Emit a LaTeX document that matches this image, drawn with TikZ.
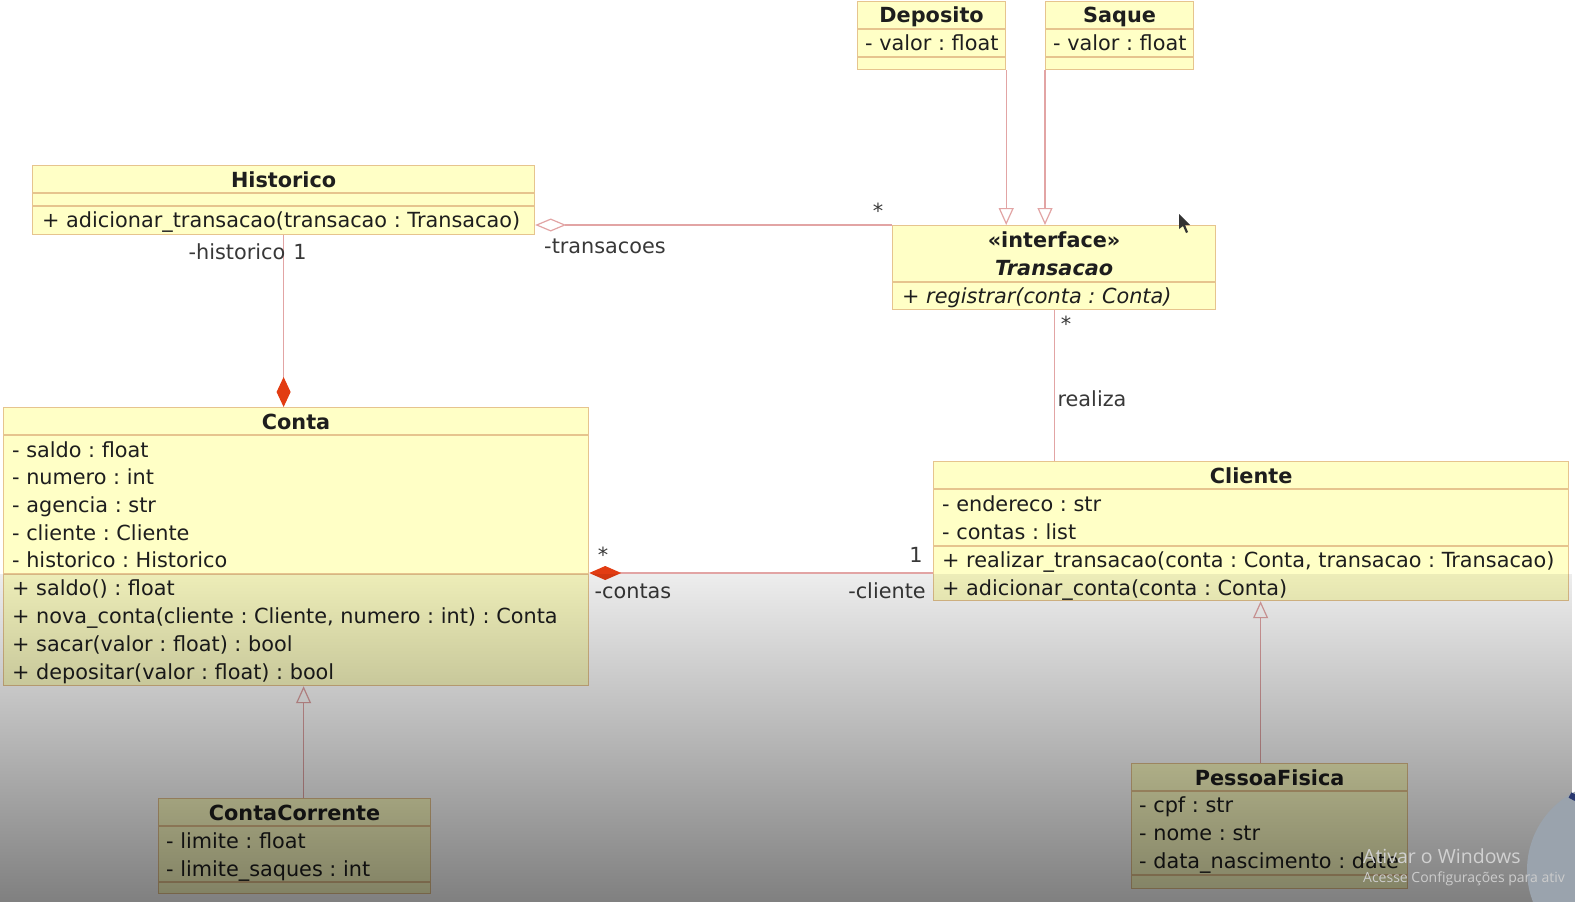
\documentclass[tikz,border=0pt]{standalone}
\usepackage{fontspec}
\setmainfont{DejaVu Sans}
\newfontfamily\winfont{Open Sans}
\usetikzlibrary{positioning,arrows.meta,fadings,calc}
\frenchspacing

\definecolor{classfill}{HTML}{FFFFC6}
\definecolor{classline}{HTML}{E6C48E}
\definecolor{wireline}{HTML}{E2A4A4}
\definecolor{diamondred}{HTML}{E23C12}
\definecolor{inktext}{HTML}{1E1E1E}
\definecolor{camgrey}{HTML}{9AA3AD}
\definecolor{camblue}{HTML}{2A3870}

\newcommand\umlsize{\fontsize{20.8}{25}\selectfont}

\tikzfading[name=screen shade,
  top color=transparent!93,
  bottom color=transparent!50]

\tikzset{
  class box/.style={
    draw=classline,
    fill=classfill,
    line width=1.2pt,
    anchor=north west,
    inner sep=0pt,
  },
  class rule/.style={
    draw=classline,
    line width=1.2pt,
  },
  class title/.style={
    font=\umlsize\bfseries,
    text=inktext,
    inner sep=0pt,
    text height=18pt,
    text depth=3.5pt,
  },
  member/.style={
    font=\umlsize,
    text=inktext,
    anchor=west,
    inner sep=0pt,
    text height=18pt,
    text depth=3.5pt,
  },
  role/.style={
    font=\umlsize,
    text=black!78,
    inner sep=0pt,
    text height=18pt,
    text depth=3.5pt,
  },
  wire/.style={
    draw=wireline,
    line width=1.2pt,
  },
  inherits/.style={
    -{Triangle[open, length=17pt, width=15pt]},
  },
  composed/.style={
    -{Diamond[length=30pt, width=14pt, fill=diamondred, color=diamondred]},
  },
}

\begin{document}
\begin{tikzpicture}[x=1pt, y=-1pt]

  \fill[white] (0,0) rectangle (1575,902);
  \useasboundingbox (0,0) rectangle (1575,902);

  % class boxes
  \node[class box, minimum width=148, minimum height=68] (deposito) at (857,1) {};
  \node[class box, minimum width=148, minimum height=68] (saque) at (1045,1) {};
  \node[class box, minimum width=502, minimum height=69] (historico) at (32,165) {};
  \node[class box, minimum width=323, minimum height=84] (transacao) at (892,225) {};
  \node[class box, minimum width=585, minimum height=278] (conta) at (3,407) {};
  \node[class box, minimum width=635, minimum height=139] (cliente) at (933,461) {};
  \node[class box, minimum width=272, minimum height=95] (contacorrente) at (158,798) {};
  \node[class box, minimum width=276, minimum height=125] (pessoafisica) at (1131,763) {};

  \foreach \n/\y in {deposito/29, deposito/57, saque/29, saque/57,
    historico/193, historico/206, transacao/282, conta/435, conta/574,
    cliente/489, cliente/546, contacorrente/826, contacorrente/882,
    pessoafisica/791, pessoafisica/875}
    \draw[class rule] (\n.west |- 0,\y) -- (\n.east |- 0,\y);

  % names
  \node[class title] (deposito-name) at (deposito.north |- 0,15) {Deposito};
  \node[class title] (saque-name) at (saque.north |- 0,15) {Saque};
  \node[class title] (historico-name) at (historico.north |- 0,180) {Historico};
  \node[class title] (transacao-stereo) at (transacao.north |- 0,240) {«interface»};
  \node[class title, font=\umlsize\bfseries\itshape] (transacao-name) at (transacao.north |- 0,268) {Transacao};
  \node[class title] (conta-name) at (conta.north |- 0,422) {Conta};
  \node[class title] (cliente-name) at (cliente.north |- 0,476) {Cliente};
  \node[class title] (contacorrente-name) at (contacorrente.north |- 0,813) {ContaCorrente};
  \node[class title] (pessoafisica-name) at (pessoafisica.north |- 0,778) {PessoaFisica};

  % members
  \node[member] (deposito-attr) at (865,43) {- valor : float};
  \node[member] (saque-attr) at (1053,43) {- valor : float};
  \node[member] (historico-op) at (42,220) {+ adicionar\_transacao(transacao : Transacao)};
  \node[member, font=\umlsize\itshape] (transacao-op) at (902,296) {+ registrar(conta : Conta)};

  \foreach \t [count=\k from 0] in {- saldo : float, - numero : int,
    - agencia : str, - cliente : Cliente, - historico : Historico}
    \node[member] (conta-attr\k) at (12,{450+27.6*\k}) {\t};
  \foreach \t [count=\k from 0] in {+ saldo() : float,
    {+ nova\_conta(cliente : Cliente, numero : int) : Conta},
    + sacar(valor : float) : bool, + depositar(valor : float) : bool}
    \node[member] (conta-op\k) at (12,{588+28*\k}) {\t};

  \foreach \t [count=\k from 0] in {- endereco : str, - contas : list}
    \node[member] (cliente-attr\k) at (942,{504+28*\k}) {\t};
  \foreach \t [count=\k from 0] in {{+ realizar\_transacao(conta : Conta, transacao : Transacao)},
    + adicionar\_conta(conta : Conta)}
    \node[member] (cliente-op\k) at (942,{560+28*\k}) {\t};

  \foreach \t [count=\k from 0] in {- limite : float, - limite\_saques : int}
    \node[member] (contacorrente-attr\k) at (166,{841+28*\k}) {\t};
  \foreach \t [count=\k from 0] in {- cpf : str, - nome : str, - data\_nascimento : date}
    \node[member] (pessoafisica-attr\k) at (1139,{805+28*\k}) {\t};

  % connectors
  \draw[wire, inherits] (deposito.south east) -- (deposito.south east |- transacao.north);
  \draw[wire, inherits] (saque.south west) -- (saque.south west |- transacao.north);
  \draw[wire, {Diamond[open, length=31pt, width=13pt]}-]
    (historico.east |- transacao.north) -- (transacao.north west);
  \draw[wire, composed] (historico.south) -- (historico.south |- conta.north);
  \draw[wire] (transacao.south) -- (transacao.south |- cliente.north);
  \draw[wire, {Diamond[length=32pt, width=14pt, fill=diamondred, color=diamondred]}-]
    (conta.east |- 0,573) -- (cliente.west |- 0,573);
  \draw[wire, inherits] ([xshift=9pt]contacorrente.north) -- ([xshift=9pt]contacorrente.north |- conta.south);
  \draw[wire, inherits] ([xshift=-9pt]pessoafisica.north) -- ([xshift=-9pt]pessoafisica.north |- cliente.south);

  % ends of the associations
  \node[role] (transacoes-many) at (878,211) {*};
  \node[role] (transacoes-role) at (605,246) {-transacoes};
  \node[role] (historico-role) at (237,252) {-historico};
  \node[role] (historico-one) at (300,252) {1};
  \node[role] (realiza-many) at (1066,324) {*};
  \node[role] (realiza-name) at (1092,399) {realiza};
  \node[role] (contas-many) at (603,555) {*};
  \node[role] (contas-role) at (633,591) {-contas};
  \node[role] (cliente-one) at (916,555) {1};
  \node[role] (cliente-role) at (887,591) {-cliente};

  % pointer
  \fill[black!80] (1179,214) -- (1179,229) -- (1183,226) -- (1186,233)
    -- (1188,232) -- (1185,225) -- (1190,225) -- cycle;

  % screen shade, camera and watermark
  \fill[black, path fading=screen shade] (0,574) rectangle (1575,902);
  \fill[camgrey] (1615,870) circle[radius=88];
  \draw[camblue, line width=6pt] (1570,795) arc[start angle=120, end angle=95, radius=88];
  \node[anchor=west, inner sep=0pt, text=white!82!black, font=\winfont\fontsize{19.5}{22}\selectfont]
    (win-title) at (1363,856) {Ativar o Windows};
  \node[anchor=west, inner sep=0pt, text=white!80!black, font=\winfont\fontsize{14}{16}\selectfont]
    (win-hint) at (1363,879) {Acesse Configurações para ativ};

\end{tikzpicture}
\end{document}
